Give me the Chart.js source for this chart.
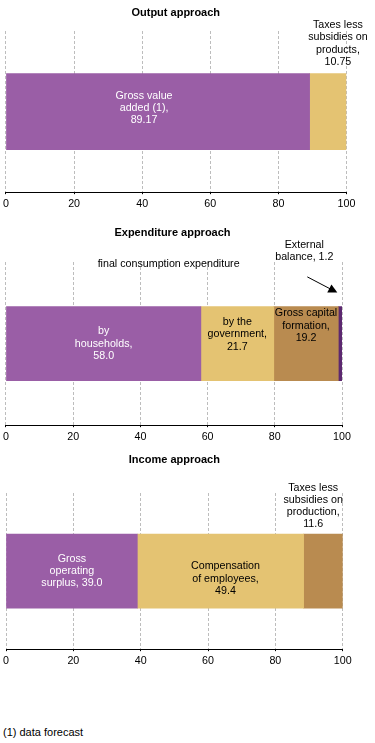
<!DOCTYPE html>
<html>
<head>
<meta charset="utf-8">
<script src="https://cdn.jsdelivr.net/npm/chart.js@4.4.0/dist/chart.umd.min.js"></script>
<style>
  body { margin: 0; background: #fff; width: 375px; height: 743px; position: relative; overflow: hidden; }
  .box { position: absolute; left: 0; width: 375px; }
  #nota { position: absolute; left: 3px; top: 726px; font: 11px "Liberation Sans", Arial, sans-serif; color: #000; }
</style>
</head>
<body>
<div class="box" style="top:0px;height:213px"><canvas id="output"></canvas></div>
<div class="box" style="top:220px;height:226px"><canvas id="expenditure"></canvas></div>
<div class="box" style="top:447px;height:223px"><canvas id="income"></canvas></div>
<div id="nota">(1) data forecast</div>

<script>
// datos de cada enfoque
const xTicks = [0, 20, 40, 60, 80, 100];

const outputNames = ['Gross value added (1)', 'Taxes less subsidies on products'];
const outputText = ['Gross value\nadded (1),\n{v}', 'Taxes less\nsubsidies on\nproducts,\n{v}'];
const outputValues = [89.17, 10.75];

const expenditureNames = ['by households', 'by the government', 'Gross capital formation', 'External balance'];
const expenditureText = ['by\nhouseholds,\n{v}', 'by the\ngovernment,\n{v}', 'Gross capital\nformation,\n{v}', 'External\nbalance, {v}'];
const expenditureValues = [58.0, 21.7, 19.2, 1.2];

const incomeNames = ['Gross operating surplus', 'Compensation of employees', 'Taxes less subsidies on production'];
const incomeText = ['Gross\noperating\nsurplus, {v}', 'Compensation\nof employees,\n{v}', 'Taxes less\nsubsidies on\nproduction,\n{v}'];
const incomeValues = [39.0, 49.4, 11.6];

const colores = ['#9a5ea6', '#e4c372', '#b98b50', '#5c2870'];
const fuente = '"Liberation Sans", Arial, sans-serif';

// etiquetas dentro / encima de cada segmento
const etiquetasPlugin = {
  id: 'etiquetas',
  afterDatasetsDraw(chart, args, opts) {
    const ctx = chart.ctx;
    ctx.save();
    ctx.font = '10.7px ' + fuente;
    ctx.textAlign = 'center';
    ctx.textBaseline = 'middle';
    const lh = 12.3;
    (opts.items || []).forEach(it => {
      const bar = chart.getDatasetMeta(it.ds).data[0];
      const cx = (bar.x + bar.base) / 2 + it.dx;
      const cy = bar.y + it.dy;
      let lineas;
      if (it.text) {
        lineas = it.text.split('\n');
      } else {
        const v = chart.data.datasets[it.ds].data[0].toFixed(opts.decimales);
        lineas = opts.textos[it.ds].replace('{v}', v).split('\n');
      }
      ctx.fillStyle = it.color || '#000';
      const y0 = cy - (lineas.length - 1) * lh / 2;
      lineas.forEach((l, i) => ctx.fillText(l, cx, y0 + i * lh));
    });
    // flecha
    if (opts.flecha) {
      const f = opts.flecha;
      const bar = chart.getDatasetMeta(f.ds).data[0];
      const bx = (bar.x + bar.base) / 2, by = bar.y;
      const x1 = bx + f.from[0], y1 = by + f.from[1];
      const x2 = bx + f.to[0], y2 = by + f.to[1];
      const ang = Math.atan2(y2 - y1, x2 - x1);
      ctx.strokeStyle = '#000';
      ctx.fillStyle = '#000';
      ctx.lineWidth = 1;
      ctx.beginPath();
      ctx.moveTo(x1, y1);
      ctx.lineTo(x2 - 6 * Math.cos(ang), y2 - 6 * Math.sin(ang));
      ctx.stroke();
      ctx.beginPath();
      ctx.moveTo(x2, y2);
      ctx.lineTo(x2 - 9 * Math.cos(ang) + 4.5 * Math.sin(ang), y2 - 9 * Math.sin(ang) - 4.5 * Math.cos(ang));
      ctx.lineTo(x2 - 9 * Math.cos(ang) - 4.5 * Math.sin(ang), y2 - 9 * Math.sin(ang) + 4.5 * Math.cos(ang));
      ctx.closePath();
      ctx.fill();
    }
    ctx.restore();
  }
};

function crearGrafica(id, titulo, nombres, valores, textos, decimales, cfg) {
  const ctx = document.getElementById(id).getContext('2d');
  return new Chart(ctx, {
    type: 'bar',
    data: {
      labels: [titulo],
      datasets: nombres.map((n, i) => ({
        label: n,
        data: [valores[i]],
        backgroundColor: colores[i],
        borderWidth: 0,
        barThickness: cfg.grosor
      }))
    },
    options: {
      indexAxis: 'y',
      responsive: true,
      maintainAspectRatio: false,
      animation: false,
      layout: { padding: { left: cfg.izq, right: cfg.der, top: 0, bottom: 0 } },
      plugins: {
        legend: { display: false },
        tooltip: { enabled: false },
        title: {
          display: true,
          text: titulo,
          color: '#000',
          font: { family: fuente, size: 11, weight: 'bold' },
          padding: { top: 6, bottom: cfg.tituloAbajo }
        },
        etiquetas: {
          items: cfg.items,
          textos: textos,
          decimales: decimales,
          flecha: cfg.flecha
        }
      },
      scales: {
        x: {
          stacked: true,
          min: 0,
          max: 100,
          afterBuildTicks: axis => { axis.ticks = xTicks.map(v => ({ value: v })); },
          grid: { color: '#bdbdbd', tickColor: '#000', tickLength: 2, tickBorderDash: [] },
          border: { display: true, color: '#000', width: 1, dash: [3, 2] },
          ticks: { color: '#000', padding: 3, font: { family: fuente, size: 10.7 } }
        },
        y: { stacked: true, display: false }
      }
    },
    plugins: [etiquetasPlugin]
  });
}

crearGrafica('output', 'Output approach', outputNames, outputValues, outputText, 2, {
  izq: 5, der: 28.5, grosor: 76, tituloAbajo: 11.8,
  items: [
    { ds: 0, dx: -14, dy: -3.5, color: '#fff' },
    { ds: 1, dx: 10, dy: -68 }
  ]
});

crearGrafica('expenditure', 'Expenditure approach', expenditureNames, expenditureValues, expenditureText, 1, {
  izq: 3, der: 33, grosor: 74, tituloAbajo: 22.8,
  items: [
    { ds: 0, dx: 0, dy: 0, color: '#fff' },
    { ds: 1, dx: 0, dy: -9.3 },
    { ds: 2, dx: 0, dy: -18 },
    { ds: 3, dx: -36, dy: -92.8 },
    { ds: 1, dx: -68.7, dy: -80, text: 'final consumption expenditure' }
  ],
  flecha: { ds: 3, from: [-33, -66.7], to: [-3, -51] }
});

crearGrafica('income', 'Income approach', incomeNames, incomeValues, incomeText, 1, {
  izq: 6, der: 32.3, grosor: 74, tituloAbajo: 26.8,
  items: [
    { ds: 0, dx: 0, dy: 0, color: '#fff' },
    { ds: 1, dx: 5, dy: 7.6 },
    { ds: 2, dx: -10, dy: -65 }
  ]
});
</script>
</body>
</html>
